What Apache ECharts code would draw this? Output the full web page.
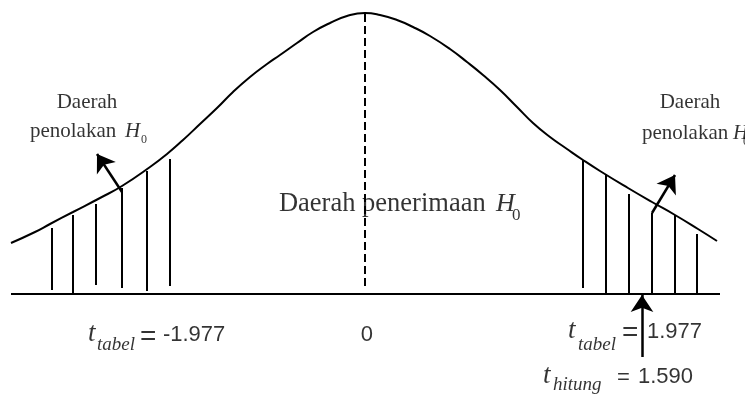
<!DOCTYPE html>
<html>
<head>
<meta charset="utf-8">
<script src="https://cdn.jsdelivr.net/npm/echarts@6/dist/echarts.min.js"></script>
<style>
html, body { margin: 0; padding: 0; background: #fff; }
#chart { width: 745px; height: 401px; }
</style>
</head>
<body>
<div id="chart"></div>
<script>
// kurva distribusi t (x dari pusat, tinggi di atas sumbu)
const curveX = [-354, -330, -315, -292, -265, -243, -215, -198, -182, -165, -148, -132, -115, -98, -85, -68, -52, -35, -18, 0,
  15, 32, 48, 65, 85, 102, 118, 135, 152, 168, 185, 202, 218, 235, 263, 287, 310, 333, 352]
const curveY = [51, 62, 70, 82, 96, 108, 127, 140, 154, 170, 186, 202, 217, 230, 239, 251, 262, 271, 278, 281,
  279, 274, 267, 258, 245, 232, 219, 204, 187, 171, 157, 145, 134, 123, 106, 92, 79, 65, 53]

// arsiran daerah penolakan
const hatchLeftX = [-313, -292, -269, -243, -218, -195]
const hatchLeftTop = [66, 79, 90, 106, 123, 135]
const hatchLeftBottom = [4, -1, 9, 6, 3, 8]
const hatchRightX = [218, 241, 264, 287, 310, 332]
const hatchRightTop = [134, 120, 100, 81, 79, 60]
const hatchRightBottom = [6, -1, -1, -1, -1, -1]

const axisEnds = [-354, 355]
const meanLine = [8, 281]

// label
const regionReject = ['Daerah', 'penolakan ']
const regionAccept = 'Daerah penerimaan '
const tTabel = ['-1.977', '1.977']
const tHitung = '1.590'
const centerTick = '0'

// panah: [ekor, ujung]
const arrows = [
  [[-243, 102], [-268, 140]],
  [[287, 81], [310, 119]],
  [[277, -63], [277, -1]]
]

const serif = '"Liberation Serif", "Times New Roman", serif'
const sans = '"Liberation Sans", Arial, sans-serif'
const fonts = {
  lbl: { fontFamily: serif, fontSize: 21 },
  lblI: { fontFamily: serif, fontSize: 21, fontStyle: 'italic' },
  sub: { fontFamily: serif, fontSize: 12 },
  mid: { fontFamily: serif, fontSize: 26.5 },
  midI: { fontFamily: serif, fontSize: 26, fontStyle: 'italic' },
  midSub: { fontFamily: serif, fontSize: 17 },
  t: { fontFamily: serif, fontSize: 27, fontStyle: 'italic' },
  tsub: { fontFamily: serif, fontSize: 19, fontStyle: 'italic' },
  num: { fontFamily: sans, fontSize: 22 },
  eq: { fontFamily: sans, fontSize: 28 },
  eqS: { fontFamily: sans, fontSize: 22 }
}

// posisi teks: [x, garis dasar, teks, gaya, perataan]
const notes = [
  [-278, 184, regionReject[0], 'lbl', 'center'],
  [-335, 155, regionReject[1], 'lbl'],
  [-240, 155, 'H', 'lblI'],
  [-224, 150, '0', 'sub'],
  [325, 184, regionReject[0], 'lbl', 'center'],
  [277, 153, regionReject[1], 'lbl'],
  [368, 153, 'H', 'lblI'],
  [378, 148, '0', 'sub'],
  [-86, 81, regionAccept, 'mid'],
  [131, 81, 'H', 'midI'],
  [147, 72, '0', 'midSub'],
  [-277, -49, 't', 't'],
  [-268, -58, 'tabel', 'tsub'],
  [-225, -53, '=', 'eq'],
  [-202, -49, tTabel[0], 'num'],
  [2, -49, centerTick, 'num', 'center'],
  [203, -46, 't', 't'],
  [213, -58, 'tabel', 'tsub'],
  [257, -49, '=', 'eq'],
  [282, -46, tTabel[1], 'num'],
  [178, -91, 't', 't'],
  [188, -98, 'hitung', 'tsub'],
  [252, -92, '=', 'eqS'],
  [273, -91, tHitung, 'num']
]

const chart = echarts.init(document.getElementById('chart'))

function hatchItem (params, api) {
  const top = api.coord([api.value(0), api.value(1)])
  const bot = api.coord([api.value(0), api.value(2)])
  return {
    type: 'line',
    shape: { x1: top[0], y1: top[1], x2: bot[0], y2: bot[1] },
    style: { stroke: '#000', lineWidth: 2 }
  }
}

const hatchData = hatchLeftX.map((x, i) => [x, hatchLeftTop[i], hatchLeftBottom[i]])
  .concat(hatchRightX.map((x, i) => [x, hatchRightTop[i], hatchRightBottom[i]]))

const textData = notes.map(n => {
  const f = fonts[n[3]]
  return {
    value: [n[0], n[1] + f.fontSize * 0.35],
    label: Object.assign({
      show: true,
      formatter: n[2],
      position: [0, 0],
      align: n[4] || 'left',
      verticalAlign: 'middle',
      color: '#000'
    }, f)
  }
})

const option = {
  animation: false,
  grid: { left: 0, right: 0, top: 0, bottom: 0 },
  xAxis: { type: 'value', min: -365, max: 380, show: false },
  yAxis: { type: 'value', min: -107, max: 294, show: false },
  series: [
    {
      type: 'line',
      data: axisEnds.map(x => [x, 0]),
      symbol: 'none',
      lineStyle: { color: '#000', width: 2 }
    },
    {
      type: 'line',
      data: curveX.map((x, i) => [x, curveY[i]]),
      symbol: 'none',
      smooth: 0.5,
      lineStyle: { color: '#000', width: 2 }
    },
    {
      type: 'line',
      data: meanLine.map(y => [0, y]),
      symbol: 'none',
      lineStyle: { color: '#000', width: 2, type: [8, 4] }
    },
    {
      type: 'custom',
      renderItem: hatchItem,
      data: hatchData,
      silent: true
    },
    {
      type: 'lines',
      coordinateSystem: 'cartesian2d',
      data: arrows.map(a => ({ coords: a })),
      symbol: ['none', 'arrow'],
      symbolSize: 17,
      lineStyle: { color: '#000', width: 2.5, opacity: 1 }
    },
    {
      type: 'scatter',
      data: textData,
      symbolSize: 0.1,
      itemStyle: { color: 'transparent' },
      silent: true,
      clip: false
    }
  ]
}

chart.setOption(option)
window.addEventListener('resize', function () {
  chart.resize()
})
</script>
</body>
</html>
